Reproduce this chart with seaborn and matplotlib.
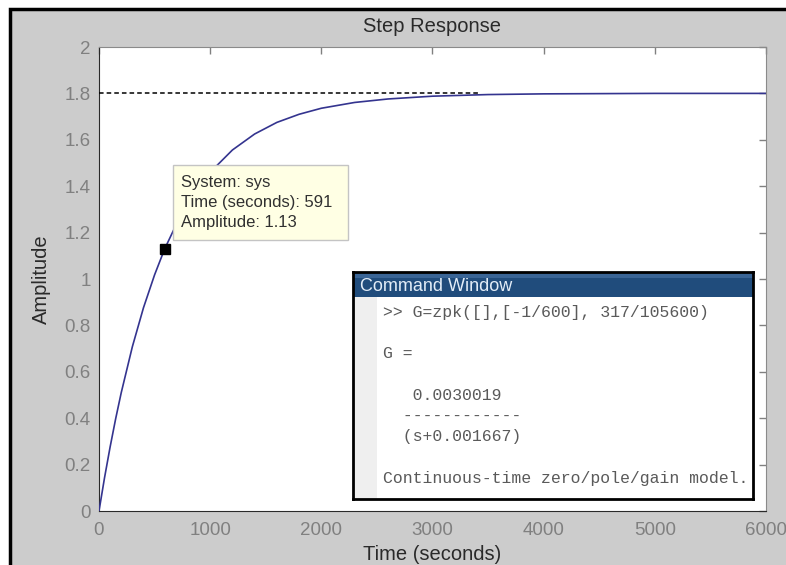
import matplotlib
matplotlib.use("Agg")
import matplotlib.pyplot as plt
from matplotlib.patches import Rectangle
import seaborn as sns

# step response
time_s = [0, 50, 100, 150, 200, 300, 400, 500, 591, 700, 800, 1000, 1200, 1400,
          1600, 1800, 2000, 2300, 2600, 3000, 3500, 4000, 5000, 6000]
amplitude = [0, 0.144, 0.276, 0.398, 0.510, 0.708, 0.876, 1.018, 1.13, 1.240, 1.326,
             1.460, 1.556, 1.625, 1.675, 1.710, 1.736, 1.761, 1.776, 1.788, 1.795,
             1.798, 1.800, 1.800]
steady_value = 1.8
steady_end = 3430
tip_time = 591
tip_amp = 1.13
tip_lines = ["System: sys", "Time (seconds): 591", "Amplitude: 1.13"]

x_ticks = [0, 1000, 2000, 3000, 4000, 5000, 6000]
x_labels = ["0", "1000", "2000", "3000", "4000", "5000", "6000"]
y_ticks = [0, 0.2, 0.4, 0.6, 0.8, 1.0, 1.2, 1.4, 1.6, 1.8, 2.0]
y_labels = ["0", "0.2", "0.4", "0.6", "0.8", "1", "1.2", "1.4", "1.6", "1.8", "2"]

cmd_lines = [">> G=zpk([],[-1/600], 317/105600)",
             "G =",
             "   0.0030019",
             "  ------------",
             "  (s+0.001667)",
             "Continuous-time zero/pole/gain model."]

sns.set_style("white")
plt.rcParams['font.family'] = ['Liberation Sans', 'DejaVu Sans']

W, H = 786, 565
fig = plt.figure(figsize=(W / 100, H / 100), dpi=100, facecolor="white")

# grey window background with black frame on left/top
fig.patches.append(Rectangle((10 / W, -0.2), 1.5, (H - 9) / H + 0.2,
                             transform=fig.transFigure, facecolor="#cccccc",
                             edgecolor="black", lw=2.5, zorder=-5))

ax = fig.add_axes([99 / W, (H - 511) / H, (766 - 99) / W, (511 - 47) / H])
ax.set_facecolor("white")

sns.lineplot(x=time_s, y=amplitude, ax=ax, color="#34348f", lw=1.2, zorder=3)
ax.plot([0, steady_end], [steady_value, steady_value], color="black", lw=1.1,
        ls=(0, (3, 2)), zorder=4)

ax.set_xlim(0, 6000)
ax.set_ylim(0, 2)
ax.set_xticks(x_ticks)
ax.set_xticklabels(x_labels)
ax.set_yticks(y_ticks)
ax.set_yticklabels(y_labels)
ax.tick_params(direction="in", length=5, width=1, colors="#808080", labelsize=13.5,
               top=True, right=True)
ax.tick_params(axis="x", pad=8)
ax.tick_params(axis="y", pad=6)
for side in ["left", "bottom"]:
    ax.spines[side].set_color("#2a2a2a")
for side in ["top", "right"]:
    ax.spines[side].set_color("#8a8a8a")

ax.set_title("Step Response", fontsize=14.5, color="#2a2a2a", pad=11)
ax.set_xlabel("Time (seconds)", fontsize=14.5, color="#2a2a2a", labelpad=4)
ax.set_ylabel("Amplitude", fontsize=14.5, color="#2a2a2a", labelpad=10)

# data tip
ax.add_patch(Rectangle((664, 1.168), 1572, 0.323, facecolor="#ffffe4",
                       edgecolor="#c4c4c4", lw=1, zorder=6))
for i, line in enumerate(tip_lines):
    ax.text(736, 1.414 - i * 0.086, line, fontsize=12, color="#303030",
            va="center", ha="left", zorder=7)
ax.plot(tip_time, tip_amp, marker="s", color="black", ms=7, zorder=8)

# command window inset
cw = fig.add_axes([353 / W, (H - 499) / H, 400 / W, 227 / H])
cw.set_xlim(0, 400)
cw.set_ylim(227, 0)
cw.set_xticks([])
cw.set_yticks([])
cw.set_facecolor("white")
for s in cw.spines.values():
    s.set_color("black")
    s.set_linewidth(2)
cw.add_patch(Rectangle((0, 0), 400, 25, facecolor="#204c7c", edgecolor="none"))
cw.add_patch(Rectangle((0, 0), 400, 6, facecolor="#3a6596", edgecolor="none"))
cw.add_patch(Rectangle((0, 25), 24, 202, facecolor="#efefef", edgecolor="none"))
cw.text(7, 14.5, "Command Window", fontsize=13, color="#e2ecf7", va="center", ha="left")
y_pos = [41, 82, 123, 144, 165, 206]
for yp, line in zip(y_pos, cmd_lines):
    cw.text(30, yp, line, fontsize=11.9, family="Liberation Mono", color="#5a5a5a",
            va="center", ha="left")

fig.savefig("out.png", dpi=100, facecolor=fig.get_facecolor())
